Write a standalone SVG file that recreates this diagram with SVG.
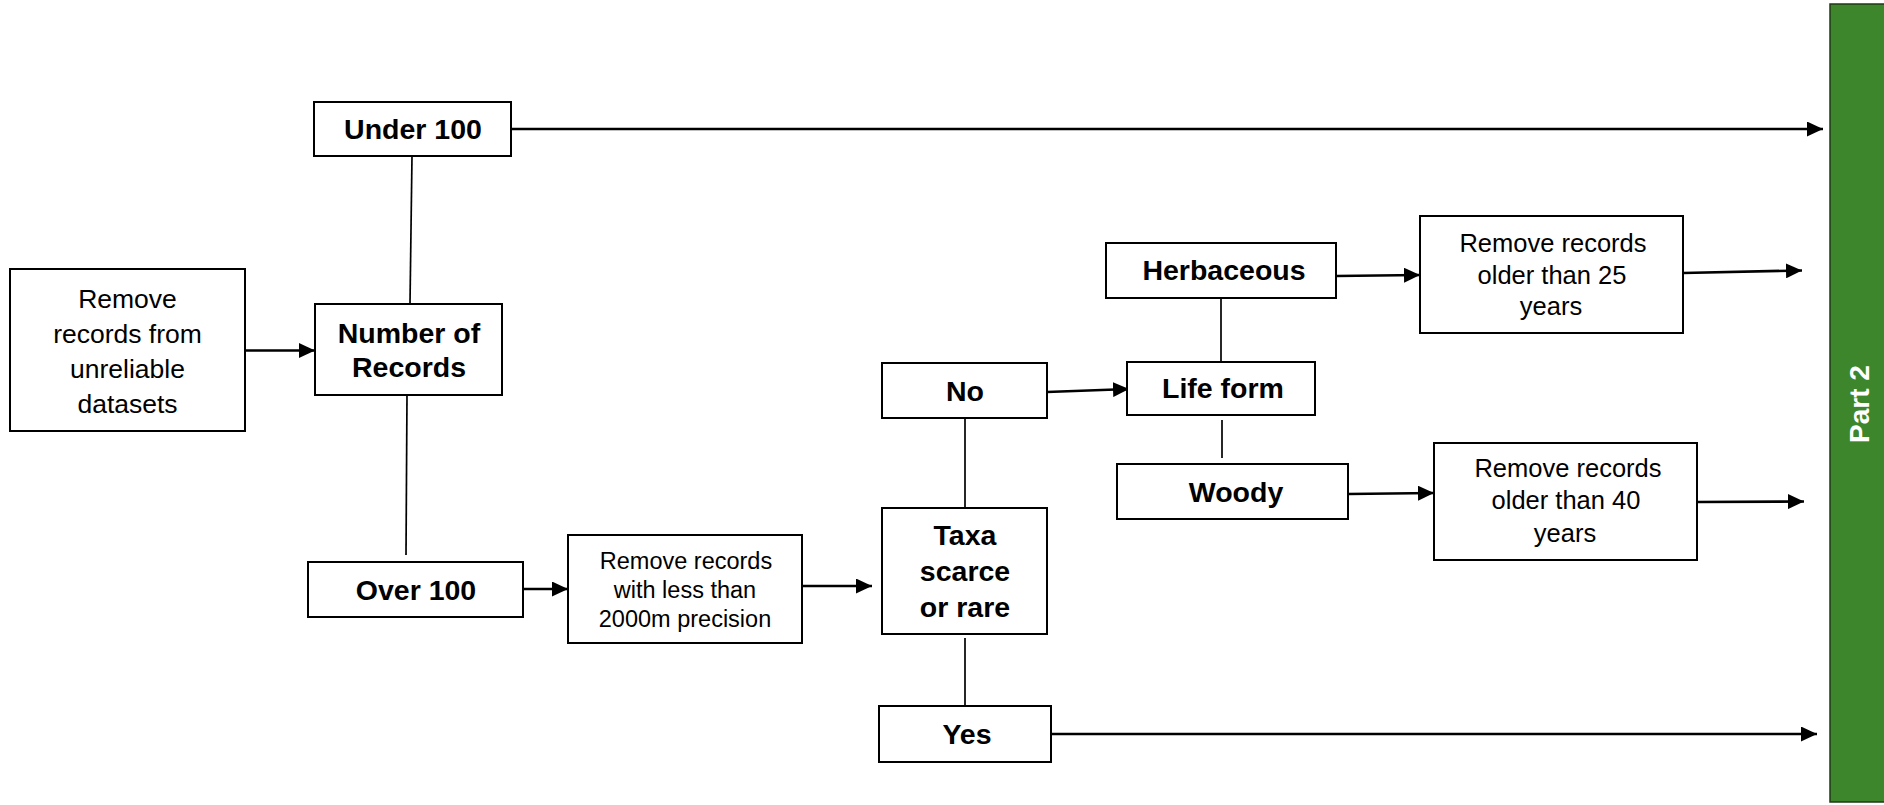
<svg xmlns="http://www.w3.org/2000/svg" width="1884" height="805" viewBox="0 0 1884 805">
  <defs>
    <style>
      .box { fill: #ffffff; stroke: #000000; stroke-width: 2; }
      .lbl { font-family: "Liberation Sans", Arial, sans-serif; font-weight: bold; font-size: 28.5px; fill: #000000; text-anchor: middle; }
      .txt { font-family: "Liberation Sans", Arial, sans-serif; font-size: 26.5px; fill: #000000; text-anchor: middle; }
      .txt2 { font-family: "Liberation Sans", Arial, sans-serif; font-size: 25.5px; fill: #000000; text-anchor: middle; }
      .txt3 { font-family: "Liberation Sans", Arial, sans-serif; font-size: 23.5px; fill: #000000; text-anchor: middle; }
      .arrow { fill: none; stroke: #000000; stroke-width: 2.7; marker-end: url(#ah); }
      .link { fill: none; stroke: #000000; stroke-width: 1.7; }
      .part { font-family: "Liberation Sans", Arial, sans-serif; font-weight: bold; font-size: 28px; fill: #ffffff; text-anchor: middle; }
    </style>
    <marker id="ah" markerUnits="userSpaceOnUse" markerWidth="16" markerHeight="15" refX="16" refY="7.5" orient="auto">
      <path d="M0,0 L16,7.5 L0,15 z" fill="#000000"/>
    </marker>
  </defs>

  <g id="connectors">
    <line class="arrow" x1="245" y1="350.5" x2="315" y2="350.5"/>
    <line class="link" x1="412" y1="156" x2="410" y2="304"/>
    <line class="link" x1="407" y1="395" x2="406" y2="555"/>
    <line class="arrow" x1="511" y1="129" x2="1823" y2="129"/>
    <line class="arrow" x1="523" y1="589" x2="568" y2="589"/>
    <line class="arrow" x1="802" y1="586" x2="872" y2="586"/>
    <line class="link" x1="965" y1="418" x2="965" y2="508"/>
    <line class="link" x1="965" y1="638" x2="965" y2="706"/>
    <line class="arrow" x1="1051" y1="734" x2="1817" y2="734"/>
    <line class="arrow" x1="1047" y1="392" x2="1129" y2="389"/>
    <line class="link" x1="1221" y1="298" x2="1221" y2="362"/>
    <line class="link" x1="1222" y1="420" x2="1222" y2="458"/>
    <line class="arrow" x1="1336" y1="276" x2="1420" y2="275"/>
    <line class="arrow" x1="1348" y1="494" x2="1434" y2="493"/>
    <line class="arrow" x1="1683" y1="273" x2="1802" y2="270.5"/>
    <line class="arrow" x1="1697" y1="502" x2="1804" y2="501.5"/>
  </g>

  <g id="remove-unreliable">
    <rect class="box" x="10" y="269" width="235" height="162"/>
    <text class="txt" x="127.5" y="308">Remove</text>
    <text class="txt" x="127.5" y="343">records from</text>
    <text class="txt" x="127.5" y="378">unreliable</text>
    <text class="txt" x="127.5" y="413">datasets</text>
  </g>

  <g id="number-of-records">
    <rect class="box" x="315" y="304" width="187" height="91"/>
    <text class="lbl" x="409" y="343">Number of</text>
    <text class="lbl" x="409" y="377">Records</text>
  </g>

  <g id="under-100">
    <rect class="box" x="314" y="102" width="197" height="54"/>
    <text class="lbl" x="413" y="139">Under 100</text>
  </g>

  <g id="over-100">
    <rect class="box" x="308" y="562" width="215" height="55"/>
    <text class="lbl" x="416" y="600">Over 100</text>
  </g>

  <g id="remove-precision">
    <rect class="box" x="568" y="535" width="234" height="108"/>
    <text class="txt3" x="686" y="569">Remove records</text>
    <text class="txt3" x="685" y="598">with less than</text>
    <text class="txt3" x="685" y="627">2000m precision</text>
  </g>

  <g id="taxa-scarce">
    <rect class="box" x="882" y="508" width="165" height="126"/>
    <text class="lbl" x="965" y="545">Taxa</text>
    <text class="lbl" x="965" y="581">scarce</text>
    <text class="lbl" x="965" y="617">or rare</text>
  </g>

  <g id="no">
    <rect class="box" x="882" y="363" width="165" height="55"/>
    <text class="lbl" x="965" y="401">No</text>
  </g>

  <g id="yes">
    <rect class="box" x="879" y="706" width="172" height="56"/>
    <text class="lbl" x="967" y="744">Yes</text>
  </g>

  <g id="life-form">
    <rect class="box" x="1127" y="362" width="188" height="53"/>
    <text class="lbl" x="1223" y="398">Life form</text>
  </g>

  <g id="herbaceous">
    <rect class="box" x="1106" y="243" width="230" height="55"/>
    <text class="lbl" x="1224" y="280">Herbaceous</text>
  </g>

  <g id="woody">
    <rect class="box" x="1117" y="464" width="231" height="55"/>
    <text class="lbl" x="1236" y="502">Woody</text>
  </g>

  <g id="remove-25">
    <rect class="box" x="1420" y="216" width="263" height="117"/>
    <text class="txt2" x="1553" y="252">Remove records</text>
    <text class="txt2" x="1552" y="284">older than 25</text>
    <text class="txt2" x="1551" y="315">years</text>
  </g>

  <g id="remove-40">
    <rect class="box" x="1434" y="443" width="263" height="117"/>
    <text class="txt2" x="1568" y="477">Remove records</text>
    <text class="txt2" x="1566" y="509">older than 40</text>
    <text class="txt2" x="1565" y="542">years</text>
  </g>

  <g id="part-2">
    <rect x="1830" y="4" width="60" height="798" fill="#3e862b" stroke="#1e3a14" stroke-width="1.5"/>
    <text class="part" transform="translate(1859,404) rotate(-90)" x="0" y="10">Part 2</text>
  </g>
</svg>
